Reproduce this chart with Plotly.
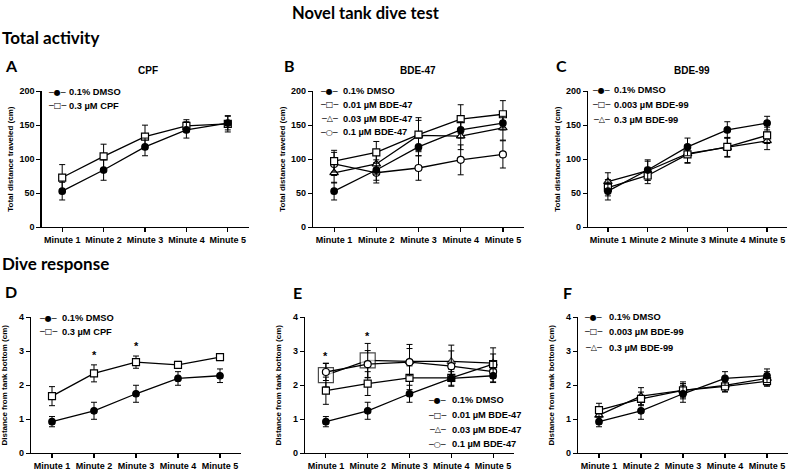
import plotly.graph_objects as go

W, H = 800, 472

minutes = ["Minute 1", "Minute 2", "Minute 3", "Minute 4", "Minute 5"]

# ---- Total activity (distance, cm) ----
dmso_dist = [53, 84, 118, 143, 153]
dmso_dist_err = [13, 15, 13, 12, 10]
cpf_dist = [73, 104, 133, 149, 152]
cpf_dist_err = [19, 18, 17, 9, 12]
b47_001_dist = [97, 110, 136, 159, 166]
b47_001_dist_err = [16, 16, 25, 21, 20]
b47_003_dist = [80, 93, 135, 134, 146]
b47_003_dist_err = [15, 15, 22, 20, 18]
b47_01_dist = [93, 80, 87, 99, 107]
b47_01_dist_err = [17, 15, 18, 22, 20]
b99_0003_dist = [58, 76, 107, 118, 135]
b99_0003_dist_err = [12, 12, 13, 14, 12]
b99_03_dist = [67, 83, 108, 117, 127]
b99_03_dist_err = [13, 14, 13, 14, 13]

# ---- Dive response (distance from bottom, cm) ----
dmso_dive = [0.93, 1.25, 1.75, 2.20, 2.28]
dmso_dive_err = [0.15, 0.25, 0.25, 0.20, 0.20]
cpf_dive = [1.68, 2.35, 2.68, 2.60, 2.83]
cpf_dive_err = [0.28, 0.25, 0.18, 0.10, 0.08]
b47_001_dive = [1.84, 2.05, 2.22, 2.22, 2.62]
b47_001_dive_err = [0.40, 0.35, 0.35, 0.25, 0.30]
b47_003_dive = [2.30, 2.73, 2.70, 2.70, 2.65]
b47_003_dive_err = [0.35, 0.50, 0.50, 0.48, 0.45]
b47_01_dive = [2.39, 2.62, 2.68, 2.56, 2.40]
b47_01_dive_err = [0.25, 0.40, 0.40, 0.45, 0.30]
b99_0003_dive = [1.27, 1.60, 1.85, 1.97, 2.12]
b99_0003_dive_err = [0.20, 0.20, 0.20, 0.15, 0.15]
b99_03_dive = [1.12, 1.68, 1.85, 2.00, 2.20]
b99_03_dive_err = [0.15, 0.25, 0.25, 0.20, 0.20]

sig_D = ["Minute 2", "Minute 3"]
sig_E = ["Minute 1", "Minute 2"]

lab_dmso = "0.1% DMSO"
lab_cpf = "0.3 µM CPF"
lab_47 = ["0.01 µM BDE-47", "0.03 µM BDE-47", "0.1 µM BDE-47"]
lab_99 = ["0.003 µM BDE-99", "0.3 µM BDE-99"]

TICKFONT = dict(family="Liberation Sans, Arial", size=9, color="black", weight="bold")
HEADFONT = "Lato, Open Sans, sans-serif"

def px(x):
    return x / W

def py(y):
    return 1 - y / H

# panel geometry (pixel) : x-left, x-right, y-top(max), y-bottom(0)
panels = {
    "A": dict(x=(41.5, 248.5), y=(88, 227)),
    "B": dict(x=(313, 524), y=(88, 227)),
    "C": dict(x=(588, 787), y=(88, 227)),
    "D": dict(x=(31, 241), y=(319, 458)),
    "E": dict(x=(305, 514), y=(319, 458)),
    "F": dict(x=(578, 788), y=(319, 458)),
}

fig = go.Figure()

STY = {
    "dmso": dict(symbol="circle", size=6.5, color="black"),
    "square": dict(symbol="square", size=7, color="white"),
    "triangle": dict(symbol="triangle-up", size=7.5, color="white"),
    "circle": dict(symbol="circle", size=7, color="white"),
}

def add(idx, y, err, style, name, sizes=None, symbols=None):
    st = dict(STY[style])
    marker = dict(symbol=symbols if symbols else st["symbol"],
                  size=sizes if sizes else st["size"],
                  color=st["color"], line=dict(color="black", width=1.2))
    fig.add_trace(go.Scatter(
        x=minutes, y=y, mode="lines+markers", name=name, showlegend=False,
        line=dict(color="black", width=1.3), marker=marker,
        error_y=dict(type="data", array=err, color="black", thickness=1, width=3),
        xaxis="x" + ("" if idx == 1 else str(idx)),
        yaxis="y" + ("" if idx == 1 else str(idx)),
    ))

# A
add(1, cpf_dist, cpf_dist_err, "square", lab_cpf)
add(1, dmso_dist, dmso_dist_err, "dmso", lab_dmso)
# B
add(2, b47_01_dist, b47_01_dist_err, "circle", lab_47[2])
add(2, b47_003_dist, b47_003_dist_err, "triangle", lab_47[1])
add(2, b47_001_dist, b47_001_dist_err, "square", lab_47[0])
add(2, dmso_dist, dmso_dist_err, "dmso", lab_dmso)
# C
add(3, b99_03_dist, b99_03_dist_err, "triangle", lab_99[1])
add(3, b99_0003_dist, b99_0003_dist_err, "square", lab_99[0])
add(3, dmso_dist, dmso_dist_err, "dmso", lab_dmso)
# D
add(4, cpf_dive, cpf_dive_err, "square", lab_cpf)
add(4, dmso_dive, dmso_dive_err, "dmso", lab_dmso)
# E
add(5, b47_003_dive, b47_003_dive_err, "triangle", lab_47[1],
    sizes=[15, 15, 7.5, 7.5, 7.5],
    symbols=["square", "square", "triangle-up", "triangle-up", "triangle-up"])
add(5, b47_001_dive, b47_001_dive_err, "square", lab_47[0])
add(5, b47_01_dive, b47_01_dive_err, "circle", lab_47[2])
add(5, dmso_dive, dmso_dive_err, "dmso", lab_dmso)
# F
add(6, b99_03_dive, b99_03_dive_err, "triangle", lab_99[1])
add(6, b99_0003_dive, b99_0003_dive_err, "square", lab_99[0])
add(6, dmso_dive, dmso_dive_err, "dmso", lab_dmso)

layout = dict(
    width=W, height=H, margin=dict(l=0, r=0, t=0, b=0),
    paper_bgcolor="white", plot_bgcolor="white", showlegend=False,
)

ytitles = {"A": "Total distance traveled (cm)", "B": "Total distance traveled (cm)",
           "C": "Total distance traveled (cm)", "D": "Distance from tank bottom (cm)",
           "E": "Distance from tank bottom (cm)", "F": "Distance from tank bottom (cm)"}

for i, key in enumerate("ABCDEF", start=1):
    g = panels[key]
    sx = "" if i == 1 else str(i)
    top_row = key in "ABC"
    layout["xaxis" + sx] = dict(
        domain=[px(g["x"][0]), px(g["x"][1])], anchor="y" + sx,
        type="category", range=[-0.5, 4.5],
        showline=True, linecolor="black", linewidth=1.2, mirror=False,
        ticks="outside", ticklen=4, tickwidth=1.2, tickcolor="black",
        tickfont=TICKFONT, showgrid=False, zeroline=False, fixedrange=True,
    )
    layout["yaxis" + sx] = dict(
        domain=[py(g["y"][1]), py(g["y"][0])], anchor="x" + sx,
        range=[0, 200] if top_row else [0, 4],
        tickvals=[0, 50, 100, 150, 200] if top_row else [0, 1, 2, 3, 4],
        showline=True, linecolor="black", linewidth=1.2,
        ticks="outside", ticklen=4, tickwidth=1.2, tickcolor="black",
        tickfont=TICKFONT, showgrid=False, zeroline=False, fixedrange=True,
        title=dict(text=ytitles[key], standoff=4 if top_row else 10,
                   font=dict(family="Liberation Sans, Arial", size=8, color="black", weight="bold")),
    )

annotations = []

def text(x, y, s, size, family, xanchor="left", bold=True):
    annotations.append(dict(
        x=px(x), y=py(y), xref="paper", yref="paper", text=s, showarrow=False,
        xanchor=xanchor, yanchor="middle",
        font=dict(family=family, size=size, color="black", weight="bold" if bold else "normal"),
    ))

# headings
text(366, 8, "Novel tank dive test", 16.5, HEADFONT, xanchor="center")
text(0, 33, "Total activity", 17, HEADFONT)
text(0, 264, "Dive response", 17, HEADFONT)
for key, (x, y) in {"A": (3, 62), "B": (282, 62), "C": (554, 62),
                    "D": (3, 293), "E": (291, 294), "F": (561, 294)}.items():
    text(x, y, key, 16, HEADFONT)
text(148, 67, "CPF", 10, "Liberation Sans, Arial", xanchor="center")
text(418, 67, "BDE-47", 10, "Liberation Sans, Arial", xanchor="center")
text(692, 67, "BDE-99", 10, "Liberation Sans, Arial", xanchor="center")

SYM = {"dmso": "─●─", "square": "─□─", "triangle": "─△─", "circle": "─○─"}
LEGFONT = "Liberation Sans, Arial"

def legend(sym_x, txt_x, rows, entries):
    for yy, (style, lab) in zip(rows, entries):
        annotations.append(dict(
            x=px(sym_x), y=py(yy), xref="paper", yref="paper", text=SYM[style],
            showarrow=False, xanchor="center", yanchor="middle",
            font=dict(family="DejaVu Sans", size=8, color="black")))
        text(txt_x, yy, lab, 9.3, LEGFONT)

legend(57, 67, [89, 103], [("dmso", lab_dmso), ("square", lab_cpf)])
legend(329, 341, [88, 102, 116, 130],
       [("dmso", lab_dmso), ("square", lab_47[0]), ("triangle", lab_47[1]), ("circle", lab_47[2])])
legend(601, 612, [87, 102, 117],
       [("dmso", lab_dmso), ("square", lab_99[0]), ("triangle", lab_99[1])])
legend(48, 60, [320, 334], [("dmso", lab_dmso), ("square", lab_cpf)])
legend(437, 450, [404, 419, 434, 449],
       [("dmso", lab_dmso), ("square", lab_47[0]), ("triangle", lab_47[1]), ("circle", lab_47[2])])
legend(593, 607, [319, 334, 350],
       [("dmso", lab_dmso), ("square", lab_99[0]), ("triangle", lab_99[1])])

# significance asterisks placed above the highest error bar of each group
def stars(idx, cats, series, offset):
    sx = "" if idx == 1 else str(idx)
    for c in cats:
        j = minutes.index(c)
        top = max(m[j] + e[j] for m, e in series)
        annotations.append(dict(
            x=c, y=top + offset, xref="x" + sx, yref="y" + sx, text="*",
            showarrow=False, xanchor="center", yanchor="middle",
            font=dict(family="Liberation Sans, Arial", size=11, color="black", weight="bold")))

stars(4, sig_D, [(cpf_dive, cpf_dive_err), (dmso_dive, dmso_dive_err)], 0.28)
stars(5, sig_E, [(b47_001_dive, b47_001_dive_err), (b47_003_dive, b47_003_dive_err),
                 (b47_01_dive, b47_01_dive_err), (dmso_dive, dmso_dive_err)], 0.22)

layout["annotations"] = annotations
fig.update_layout(**layout)
fig.write_html(
    "out.html",
    config={"displayModeBar": False, "staticPlot": True},
    post_script="document.body.style.margin='0';document.body.style.padding='0';"
                "document.documentElement.style.overflow='hidden';",
)
